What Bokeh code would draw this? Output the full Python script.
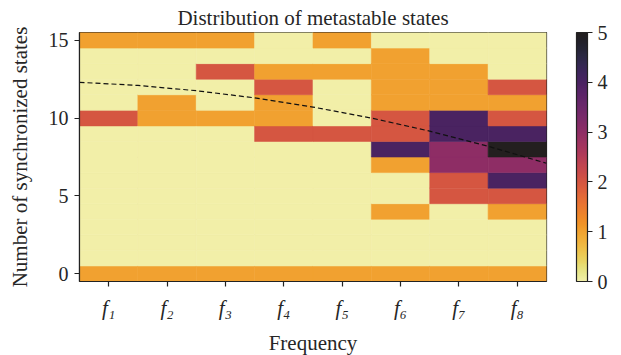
from bokeh.plotting import figure
from bokeh.models import ColumnDataSource, LinearColorMapper, ColorBar, FixedTicker, Range1d
from bokeh.palettes import Inferno256
from bokeh.transform import transform
from bokeh.embed import file_html
from bokeh.resources import INLINE

# ---- data ----
freq_labels = ["f₁", "f₂", "f₃", "f₄", "f₅", "f₆", "f₇", "f₈"]
sync_states = list(range(16))  # number of synchronized states (rows 0..15)

# number of metastable states for each frequency, by number of synchronized states 0..15
f1_counts = [1, 0, 0, 0, 0, 0, 0, 0, 0, 0, 2, 0, 0, 0, 0, 1]
f2_counts = [1, 0, 0, 0, 0, 0, 0, 0, 0, 0, 1, 1, 0, 0, 0, 1]
f3_counts = [1, 0, 0, 0, 0, 0, 0, 0, 0, 0, 1, 0, 0, 2, 0, 1]
f4_counts = [1, 0, 0, 0, 0, 0, 0, 0, 0, 2, 1, 1, 2, 1, 0, 0]
f5_counts = [1, 0, 0, 0, 0, 0, 0, 0, 0, 2, 0, 0, 0, 1, 0, 1]
f6_counts = [1, 0, 0, 0, 1, 0, 0, 1, 4, 2, 2, 1, 1, 1, 1, 0]
f7_counts = [1, 0, 0, 0, 0, 2, 2, 3, 3, 4, 4, 1, 1, 1, 0, 0]
f8_counts = [1, 0, 0, 0, 1, 2, 4, 3, 5, 4, 2, 1, 2, 0, 0, 0]

# dashed curve (frequency position, synchronized states)
curve_x = [-0.5, 0.5, 1.5, 2.5, 3.5, 4.5, 5.5, 6.5, 7.5]
curve_y = [12.3, 12.1, 11.76, 11.3, 10.71, 10.0, 9.16, 8.19, 7.1]

cbar_ticks = [0, 1, 2, 3, 4, 5]
y_ticks = [0, 5, 10, 15]

SERIF = "Liberation Serif"
TXT = "#262626"
FS = "20px"

# ---- palette: inferno (reversed) toned to the printed look of the reference ----
def _hex(c):
    c = c.lstrip("#")
    return [int(c[i:i + 2], 16) for i in (0, 2, 4)]

base = list(reversed(Inferno256))
# colour offsets at values 0..5 (reference tone minus inferno)
tone = [(-10, -15, 4), (-10, -3, 38), (-7, 6, 8), (-5, 8, -2), (9, 26, -6), (35, 31, 28)]
palette = []
n = len(base)
for i, c in enumerate(base):
    rgb = _hex(c)
    v = 5.0 * i / (n - 1)
    k = min(int(v), 4)
    f = v - k
    out = []
    for ch in range(3):
        d = tone[k][ch] * (1 - f) + tone[k + 1][ch] * f
        out.append(max(0, min(255, int(round(rgb[ch] + d)))))
    palette.append("#%02x%02x%02x" % tuple(out))

all_cols = [f1_counts, f2_counts, f3_counts, f4_counts,
            f5_counts, f6_counts, f7_counts, f8_counts]
xs, ys, vs = [], [], []
for ci, col in enumerate(all_cols):
    for r, v in zip(sync_states, col):
        xs.append(ci)
        ys.append(r)
        vs.append(v)
src = ColumnDataSource(dict(x=xs, y=ys, v=vs))

mapper = LinearColorMapper(palette=palette, low=0, high=5)

p = figure(frame_width=467, frame_height=249,
           x_range=Range1d(-0.5, 7.5), y_range=Range1d(-0.5, 15.5),
           output_backend="svg", toolbar_location=None,
           title="Distribution of metastable states",
           min_border_left=79, min_border_top=32,
           min_border_bottom=72, min_border_right=72)

p.rect(x="x", y="y", width=1, height=1, source=src,
       fill_color=transform("v", mapper), line_color=transform("v", mapper),
       line_width=0.6)
p.line(curve_x, curve_y, line_color="#111111", line_width=1.2, line_dash="5 3")

p.title.align = "center"
p.title.text_font = SERIF
p.title.text_font_size = "21px"
p.title.text_font_style = "normal"
p.title.text_color = TXT
p.title.standoff = 6

p.grid.visible = False
p.outline_line_color = "#222222"
p.outline_line_width = 1.2
p.outline_line_alpha = 1

for ax in (p.xaxis[0], p.yaxis[0]):
    ax.axis_line_color = "#222222"
    ax.axis_line_width = 1.2
    ax.major_tick_line_color = "#222222"
    ax.major_tick_line_width = 1.2
    ax.major_tick_in = 0
    ax.major_tick_out = 5
    ax.minor_tick_line_color = None
    ax.major_label_text_font = SERIF
    ax.major_label_text_font_size = FS
    ax.major_label_text_color = TXT
    ax.axis_label_text_font = SERIF
    ax.axis_label_text_font_size = "21px"
    ax.axis_label_text_font_style = "normal"
    ax.axis_label_text_color = TXT

p.xaxis.ticker = FixedTicker(ticks=list(range(len(freq_labels))))
p.xaxis.major_label_overrides = {i: lab for i, lab in enumerate(freq_labels)}
p.xaxis.major_label_text_font_style = "italic"
p.xaxis.major_label_text_font_size = "21px"
p.xaxis.major_label_standoff = 9
p.xaxis.axis_label = "Frequency"
p.xaxis.axis_label_standoff = 8

p.yaxis.ticker = FixedTicker(ticks=y_ticks)
p.yaxis.major_label_standoff = 6
p.yaxis.axis_label = "Number of synchronized states"
p.yaxis.axis_label_standoff = 14

cb = ColorBar(color_mapper=mapper, ticker=FixedTicker(ticks=cbar_ticks),
              location=(497, 0), width=11, height=249, padding=0, margin=0,
              major_tick_in=0, major_tick_out=5,
              major_tick_line_color="#222222", bar_line_color="#222222",
              bar_line_width=1.2,
              label_standoff=5, major_label_text_font=SERIF,
              major_label_text_font_size=FS, major_label_text_color=TXT,
              background_fill_alpha=0, border_line_color=None)
p.add_layout(cb)

open("out.html", "w").write(file_html(p, INLINE))
